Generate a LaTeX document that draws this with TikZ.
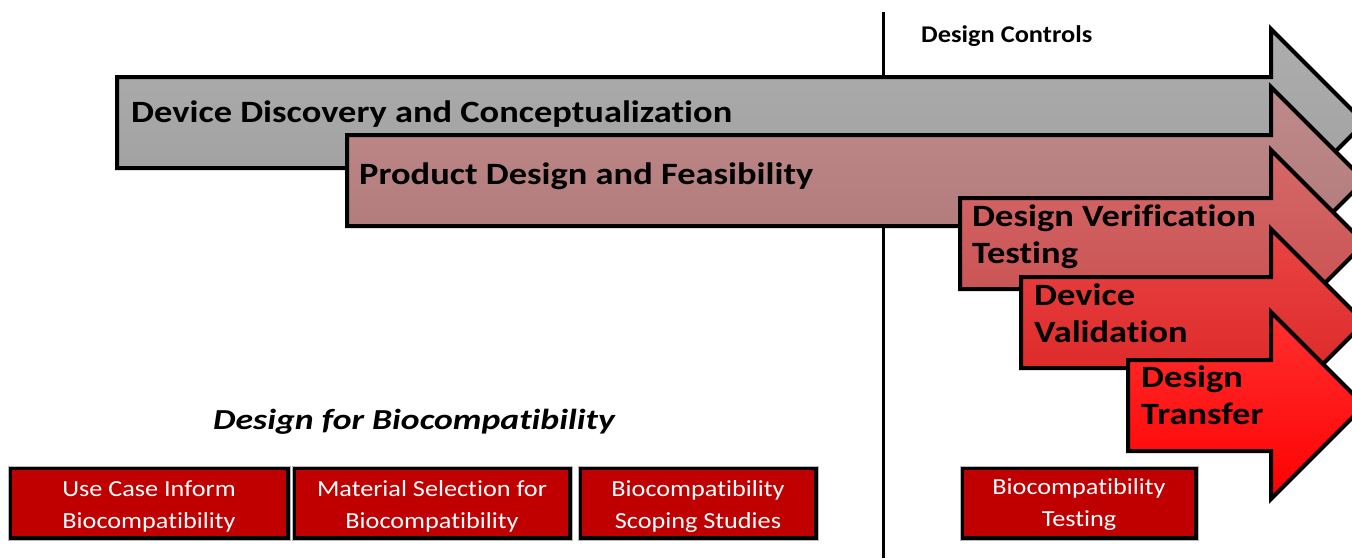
\documentclass[tikz,border=0pt]{standalone}
\usepackage{fontspec}
\setmainfont{Carlito}[Ligatures=CommonOff]
\definecolor{grayTop}{HTML}{ADADAD}
\definecolor{grayBot}{HTML}{9F9F9F}
\definecolor{pinkTop}{HTML}{C08A8A}
\definecolor{pinkBot}{HTML}{AE7878}
\definecolor{verTop}{HTML}{D66868}
\definecolor{verBot}{HTML}{C64E4E}
\definecolor{valTop}{HTML}{EA4444}
\definecolor{valBot}{HTML}{DA2222}
\definecolor{trfTop}{HTML}{FF3030}
\definecolor{trfBot}{HTML}{FF0000}
\definecolor{boxRed}{HTML}{C00000}
\definecolor{cellLine}{HTML}{B8B8B8}
% block arrow: #1 left edge, #2 top of shaft, #3/#4 shading colours
\newcommand\phasearrow[4]{%
  \shade[top color=#3, bottom color=#4, draw=black, line width=4pt, line join=miter]
    (#1,#2) -- (1271,#2) -- (1271,{#2-48}) -- (1364.5,{#2+45.5})
    -- (1271,{#2+139}) -- (1271,{#2+91}) -- (#1,{#2+91}) -- cycle;}
\tikzset{
  phasetext/.style={anchor=base west, inner sep=0pt, xscale=1.175,
    font=\bfseries\fontsize{31}{37}\selectfont},
  bioBox/.style={draw=black, line width=4.5pt, fill=boxRed},
  bioText/.style={anchor=base, inner sep=0pt, text=white, xscale=1.14,
    font=\fontsize{23}{32}\selectfont},
}
\begin{document}
\begin{tikzpicture}[x=1pt,y=-1pt]
\useasboundingbox (0,0) rectangle (1352,558);
\clip (0,0) rectangle (1352,558);

% divider between early phases and design controls
\draw[line width=3pt] (883,12) -- (883,558);
\node[anchor=base west, inner sep=0pt, xscale=1.1,
  font=\bfseries\fontsize{24}{28}\selectfont] (dc) at (921,42) {Design Controls};

% phase arrows, back to front
\phasearrow{117}{77}{grayTop}{grayBot}
\node[phasetext] (p1) at (131,122) {Device Discovery and Conceptualization};
\phasearrow{347}{135}{pinkTop}{pinkBot}
\node[phasetext] (p2) at (359,184) {Product Design and Feasibility};
\phasearrow{960}{198}{verTop}{verBot}
\node[phasetext] (p3a) at (972,226) {Design Verification};
\node[phasetext] (p3b) at (972,263) {Testing};
\phasearrow{1021}{277}{valTop}{valBot}
\node[phasetext] (p4a) at (1034,305) {Device};
\node[phasetext] (p4b) at (1034,342) {Validation};
\phasearrow{1128}{360}{trfTop}{trfBot}
\node[phasetext] (p5a) at (1141,387) {Design};
\node[phasetext] (p5b) at (1141,424) {Transfer};

% design for biocompatibility
\node[anchor=base west, inner sep=0pt, xscale=1.23,
  font=\bfseries\itshape\fontsize{29}{34}\selectfont] (dfb) at (213,429) {Design for Biocompatibility};

% activity boxes
\foreach \l/\r/\n in {8/290/b1, 292/572/b2, 578/818/b3, 960/1198/b4}{
  \draw[bioBox] (\l+2,468) rectangle (\r-2,538);
  \draw[cellLine, line width=0.8pt] (\l,466) rectangle (\r,540);
}
\node[bioText] (b1a) at (149,496) {Use Case Inform};
\node[bioText] (b1b) at (149,528) {Biocompatibility};
\node[bioText] (b2a) at (432,496) {Material Selection for};
\node[bioText] (b2b) at (432,528) {Biocompatibility};
\node[bioText] (b3a) at (698,496) {Biocompatibility};
\node[bioText] (b3b) at (698,528) {Scoping Studies};
\node[bioText] (b4a) at (1079,494) {Biocompatibility};
\node[bioText] (b4b) at (1079,526) {Testing};
\end{tikzpicture}
\end{document}
